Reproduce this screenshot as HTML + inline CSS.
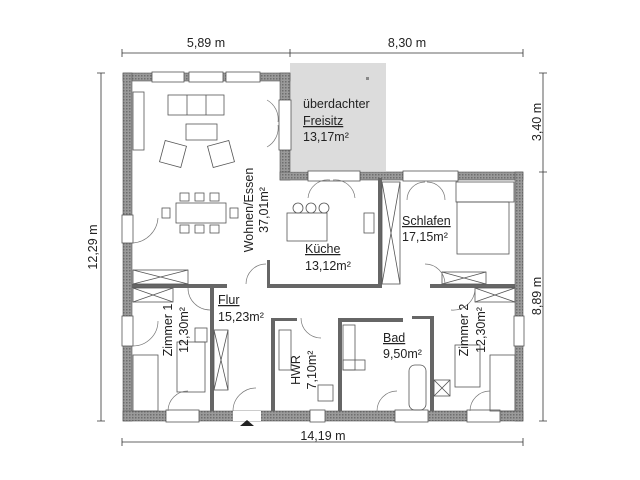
<!DOCTYPE html>
<html><head><meta charset="utf-8"><style>html,body{margin:0;padding:0;background:#fff}svg{display:block}text{font-family:"Liberation Sans",sans-serif;fill:#222}</style></head><body>
<svg width="640" height="480" viewBox="0 0 640 480" xmlns="http://www.w3.org/2000/svg">
<defs><pattern id="h" width="3" height="3" patternUnits="userSpaceOnUse"><rect width="3" height="3" fill="#9a9a9a"/><rect width="1.5" height="1.5" fill="#6e6e6e"/></pattern></defs>
<!-- Freisitz -->
<rect x="290" y="63" width="96" height="108" fill="#dcdcdc"/>
<rect x="366" y="77" width="3" height="3" fill="#888"/>
<!-- outer walls -->
<g fill="url(#h)" stroke="#555" stroke-width="0.6">
<rect x="123" y="73" width="167" height="8"/>
<rect x="123" y="73" width="9" height="348"/>
<rect x="280" y="73" width="10" height="107"/>
<rect x="280" y="172" width="28" height="8"/>
<rect x="360" y="172" width="43" height="8"/>
<rect x="458" y="172" width="65" height="8"/>
<rect x="515" y="172" width="8" height="249"/>
<rect x="123" y="411" width="400" height="10"/>
</g>
<!-- windows -->
<g fill="#fff" stroke="#555" stroke-width="0.8">
<rect x="152" y="72" width="32" height="10"/><rect x="189" y="72" width="34" height="10"/><rect x="226" y="72" width="34" height="10"/>
<rect x="122" y="215" width="11" height="28"/><rect x="122" y="316" width="11" height="30"/>
<rect x="514" y="316" width="10" height="30"/>
<rect x="308" y="171" width="52" height="10"/><rect x="403" y="171" width="55" height="10"/>
<rect x="279" y="100" width="12" height="50"/>
<rect x="166" y="410" width="33" height="12"/><rect x="310" y="410" width="15" height="12"/><rect x="395" y="410" width="33" height="12"/><rect x="467" y="410" width="33" height="12"/>
</g>
<rect x="233" y="411" width="28" height="10" fill="#fff"/>
<polygon points="240,426 254,426 247,420" fill="#222"/>
<!-- interior walls -->
<g fill="#666">
<rect x="132" y="284" width="95" height="4"/><rect x="268" y="284" width="112" height="4"/><rect x="430" y="284" width="85" height="4"/>
<rect x="267" y="260" width="3" height="28"/><rect x="378" y="178" width="4" height="110"/>
<rect x="210" y="288" width="4" height="123"/>
<rect x="271" y="318" width="4" height="93"/><rect x="271" y="318" width="26" height="3"/>
<rect x="338" y="318" width="4" height="93"/><rect x="338" y="318" width="65" height="4"/>
<rect x="430" y="316" width="4" height="95"/><rect x="412" y="316" width="20" height="3"/>
</g>
<!-- furniture -->
<g fill="none" stroke="#555" stroke-width="0.8">
<rect x="168" y="95" width="56" height="20"/><line x1="187" y1="95" x2="187" y2="115"/><line x1="206" y1="95" x2="206" y2="115"/>
<rect x="186" y="124" width="31" height="16"/>
<rect x="162" y="143" width="22" height="22" transform="rotate(15 173 154)"/><rect x="210" y="143" width="22" height="22" transform="rotate(-15 221 154)"/>
<rect x="176" y="203" width="50" height="20"/>
<rect x="180" y="193" width="9" height="8"/><rect x="195" y="193" width="9" height="8"/><rect x="210" y="193" width="9" height="8"/>
<rect x="180" y="225" width="9" height="8"/><rect x="195" y="225" width="9" height="8"/><rect x="210" y="225" width="9" height="8"/>
<rect x="162" y="208" width="8" height="10"/><rect x="230" y="208" width="8" height="10"/>
<rect x="133" y="92" width="11" height="58"/>
<rect x="133" y="270" width="55" height="14"/><path d="M133 270L188 284M133 284L188 270"/>
<rect x="133" y="288" width="40" height="14"/><path d="M133 288L173 302M133 302L173 288"/>
<rect x="287" y="213" width="40" height="28"/><circle cx="298" cy="208" r="5"/><circle cx="311" cy="208" r="5"/><circle cx="324" cy="208" r="5"/>
<rect x="364" y="213" width="10" height="20"/>
<rect x="382" y="182" width="18" height="102"/><path d="M382 182L400 284M400 182L382 284"/>
<rect x="457" y="202" width="52" height="52"/><rect x="456" y="182" width="58" height="20"/>
<rect x="442" y="272" width="44" height="12"/><path d="M442 272L486 284M442 284L486 272"/>
<rect x="475" y="288" width="40" height="14"/><path d="M475 288L515 302M475 302L515 288"/>
<rect x="214" y="330" width="14" height="60"/><path d="M214 330L228 390M228 330L214 390"/>
<rect x="195" y="328" width="12" height="14"/>
<rect x="133" y="355" width="25" height="56"/><rect x="490" y="355" width="25" height="56"/>
<rect x="177" y="342" width="28" height="50"/><rect x="455" y="345" width="25" height="42"/>
<rect x="279" y="330" width="12" height="40"/><rect x="318" y="385" width="15" height="16"/>
<rect x="343" y="325" width="12" height="45"/><rect x="343" y="360" width="22" height="10"/>
<rect x="409" y="365" width="17" height="45" rx="6"/>
<rect x="434" y="380" width="16" height="16"/><path d="M434 380L450 396M450 380L434 396"/>
</g>
<g fill="none" stroke="#777" stroke-width="0.7">
<path d="M133 243A27 27 0 0 0 158 218"/><path d="M158 321A25 25 0 0 1 133 346"/>
<path d="M267 100A22 22 0 0 1 278 122M267 147A22 22 0 0 0 278 125"/>
<path d="M246 284A20 20 0 0 1 266 264"/><path d="M425 264A20 20 0 0 1 445 284"/>
<path d="M188 288A22 22 0 0 0 210 310"/><path d="M451 310A22 22 0 0 0 475 288"/>
<path d="M233 411A23 23 0 0 1 256 388"/><path d="M301 318A20 20 0 0 0 321 338"/>
<path d="M377 411A20 20 0 0 1 397 391"/><path d="M168 411A20 20 0 0 1 188 391"/><path d="M470 411A20 20 0 0 1 490 391"/>
<path d="M308 198A20 20 0 0 1 330 180M355 198A20 20 0 0 0 333 180"/>
<path d="M407 200A18 18 0 0 1 425 182M445 200A18 18 0 0 0 427 182"/>
</g>
<!-- labels -->
<g font-size="12.5">
<text x="303" y="108">überdachter</text>
<text x="303" y="125" text-decoration="underline">Freisitz</text>
<text x="303" y="141">13,17m²</text>
<text x="305" y="253" text-decoration="underline">Küche</text>
<text x="305" y="270">13,12m²</text>
<text x="402" y="225" text-decoration="underline">Schlafen</text>
<text x="402" y="241">17,15m²</text>
<text x="218" y="304" text-decoration="underline">Flur</text>
<text x="218" y="321">15,23m²</text>
<text x="383" y="342" text-decoration="underline">Bad</text>
<text x="383" y="358">9,50m²</text>
<text transform="translate(253 210) rotate(-90)" text-anchor="middle">Wohnen/Essen</text>
<text transform="translate(268 210) rotate(-90)" text-anchor="middle">37,01m²</text>
<text transform="translate(172 330) rotate(-90)" text-anchor="middle">Zimmer 1</text>
<text transform="translate(188 330) rotate(-90)" text-anchor="middle">12,30m²</text>
<text transform="translate(300 370) rotate(-90)" text-anchor="middle">HWR</text>
<text transform="translate(316 370) rotate(-90)" text-anchor="middle">7,10m²</text>
<text transform="translate(468 330) rotate(-90)" text-anchor="middle">Zimmer 2</text>
<text transform="translate(485 330) rotate(-90)" text-anchor="middle">12,30m²</text>
</g>
<!-- dimensions -->
<g stroke="#333" stroke-width="0.8" fill="none">
<path d="M122 53H523M122 49V57M290 49V57M523 49V57"/>
<path d="M122 442H523M122 438V446M523 438V446"/>
<path d="M101 73V421M97 73H105M97 421H105"/>
<path d="M543 73V421M539 73H547M539 172H547M539 421H547"/>
</g>
<g font-size="12.5">
<text x="206" y="47" text-anchor="middle">5,89 m</text>
<text x="407" y="47" text-anchor="middle">8,30 m</text>
<text x="323" y="440" text-anchor="middle">14,19 m</text>
<text transform="translate(97 247) rotate(-90)" text-anchor="middle">12,29 m</text>
<text transform="translate(541 122) rotate(-90)" text-anchor="middle">3,40 m</text>
<text transform="translate(541 296) rotate(-90)" text-anchor="middle">8,89 m</text>
</g>
</svg>
</body></html>
